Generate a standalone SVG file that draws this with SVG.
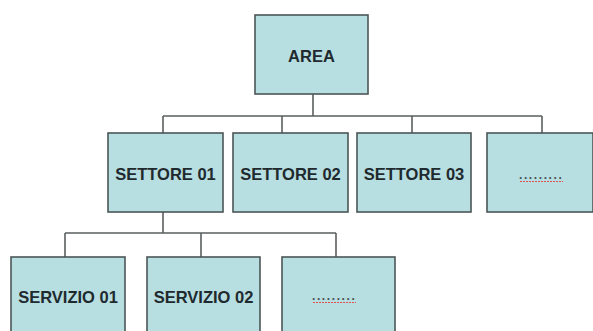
<svg xmlns="http://www.w3.org/2000/svg" width="593" height="331" viewBox="0 0 593 331">
<style>
.box{fill:#b7dee1;stroke:#4d5557;stroke-width:1.6}
.lbl{font-family:"Liberation Sans",Arial,sans-serif;font-weight:bold;font-size:16.5px;fill:#1f2a2e;text-anchor:middle}
.dots{font-family:"Liberation Sans",Arial,sans-serif;font-weight:bold;font-size:12px;fill:#4a5254;letter-spacing:1.6px}
.sq{stroke:#e0504c;stroke-width:1;fill:none;stroke-dasharray:2 1}
.ln{stroke:#5a5f60;stroke-width:1.6;fill:none}
</style>
<rect width="593" height="331" fill="#ffffff"/>
<g id="connectors">
<path class="ln" d="M313 94V116M163 116H542M163 116V133M282 116V133M412 116V133M542 116V133"/>
<path class="ln" d="M163 212V233M65 233H336M65 233V257M201 233V257M336 233V257"/>
</g>
<g id="area"><rect class="box" x="255" y="15" width="113" height="79"/><text class="lbl" x="311.5" y="62">AREA</text></g>
<g id="settore01"><rect class="box" x="108" y="133" width="115" height="79"/><text class="lbl" x="165.5" y="180">SETTORE 01</text></g>
<g id="settore02"><rect class="box" x="233" y="133" width="115" height="79"/><text class="lbl" x="290.5" y="180">SETTORE 02</text></g>
<g id="settore03"><rect class="box" x="357" y="133" width="114" height="79"/><text class="lbl" x="414" y="180">SETTORE 03</text></g>
<g id="settore-more"><rect class="box" x="487" y="133" width="106" height="79"/><text class="dots" x="519" y="179">.........</text><path class="sq" d="M520 181.5H563"/></g>
<g id="servizio01"><rect class="box" x="11" y="257" width="114" height="80"/><text class="lbl" x="68" y="303">SERVIZIO 01</text></g>
<g id="servizio02"><rect class="box" x="147" y="257" width="113" height="80"/><text class="lbl" x="203.5" y="303">SERVIZIO 02</text></g>
<g id="servizio-more"><rect class="box" x="282" y="257" width="113" height="80"/><text class="dots" x="312" y="300">.........</text><path class="sq" d="M313 302.5H356"/></g>
</svg>
